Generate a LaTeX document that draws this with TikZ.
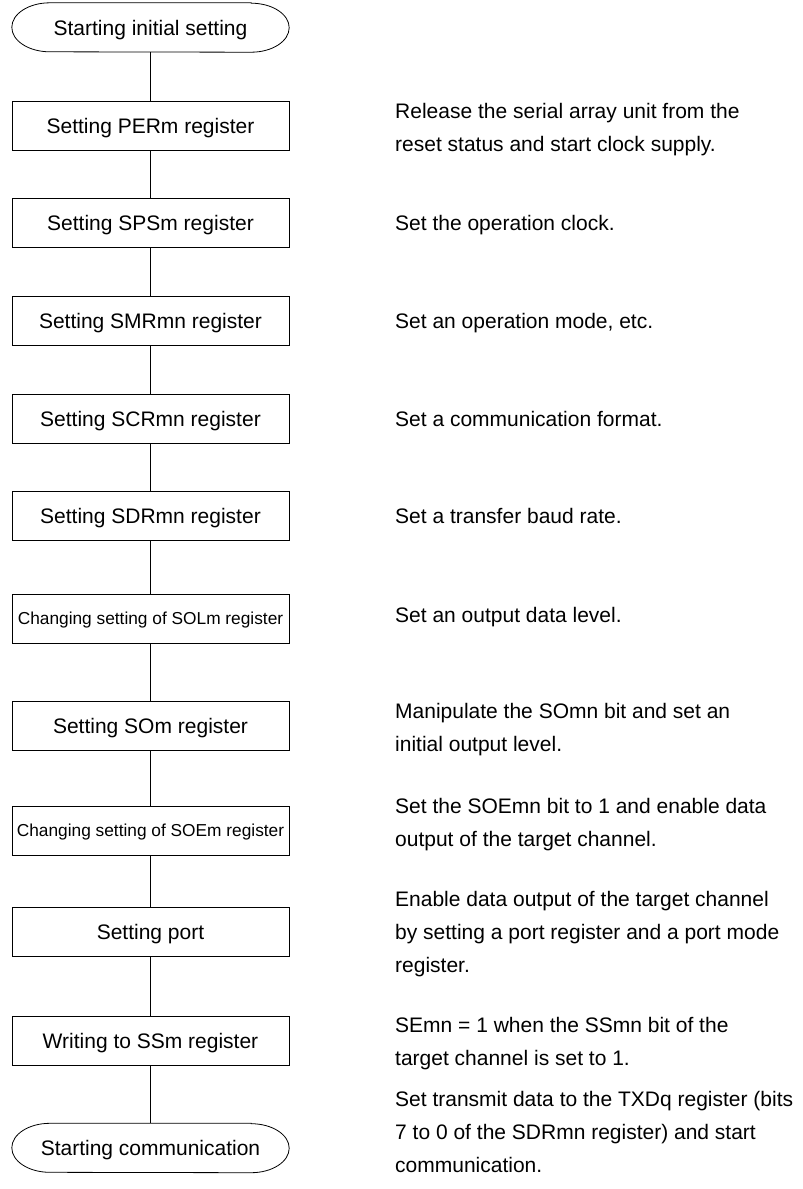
\documentclass[tikz,border=0pt]{standalone}
\usepackage{fontspec}
\setmainfont{Liberation Sans}
\usetikzlibrary{positioning}

\begin{document}
\begin{tikzpicture}[
    x=1pt, y=1pt,
    font=\fontsize{21}{33}\selectfont,
    link/.style={draw, line width=0.8pt},
    stepbox/.style={draw, line width=0.8pt, minimum width=277pt, minimum height=49pt,
      inner sep=0pt, text height=15pt, text depth=0pt},
    smallbox/.style={stepbox, font=\fontsize{17.3}{20}\selectfont, text height=12.4pt},
    terminal/.style={minimum width=277pt, minimum height=49pt, inner sep=0pt,
      text height=15pt, text depth=0pt},
    note/.style={anchor=base west, align=left, inner sep=0pt},
  ]
  \useasboundingbox (0,0) rectangle (803,-1189);

  % start and end of the flow
  \node[terminal] (start) at (150.5,-27.5) {Starting initial setting};
  \node[terminal] (comm) at (150.5,-1148) {Starting communication};
  \foreach \n in {start,comm} {
    \draw[line width=0.8pt] ([xshift=-38pt]\n.north east) -- ([xshift=38pt]\n.north west)
      arc[start angle=90, end angle=270, x radius=38pt, y radius=24.5pt]
      -- ([xshift=-38pt]\n.south east)
      arc[start angle=-90, end angle=90, x radius=38pt, y radius=24.5pt] -- cycle;
  }

  % register setting steps
  \foreach \name/\ypos/\sty/\txt in {
      per/125.5/stepbox/{Setting PERm register},
      sps/223/stepbox/{Setting SPSm register},
      smr/320.5/stepbox/{Setting SMRmn register},
      scr/418.5/stepbox/{Setting SCRmn register},
      sdr/516/stepbox/{Setting SDRmn register},
      sol/618.5/smallbox/{Changing setting of SOLm register},
      som/725.5/stepbox/{Setting SOm register},
      soe/830.5/smallbox/{Changing setting of SOEm register},
      port/932/stepbox/{Setting port},
      ssm/1040.5/stepbox/{Writing to SSm register}} {
    \node[\sty] (\name) at (150.5,-\ypos) {\txt};
  }

  \foreach \a/\b in {start/per, per/sps, sps/smr, smr/scr, scr/sdr, sdr/sol,
      sol/som, som/soe, soe/port, port/ssm, ssm/comm} {
    \draw[link] (\a) -- (\b);
  }

  % explanations on the right (y = baseline of the last line)
  \foreach \name/\ypos/\txt in {
      nper/151/{Release the serial array unit from the\\reset status and start clock supply.},
      nsps/230.5/{Set the operation clock.},
      nsmr/328/{Set an operation mode, etc.},
      nscr/426/{Set a communication format.},
      nsdr/523.5/{Set a transfer baud rate.},
      nsol/622/{Set an output data level.},
      nsom/751/{Manipulate the SOmn bit and set an\\initial output level.},
      nsoe/846/{Set the SOEmn bit to 1 and enable data\\output of the target channel.},
      nport/972/{Enable data output of the target channel\\by setting a port register and a port mode\\register.},
      nssm/1065/{SEmn = 1 when the SSmn bit of the\\target channel is set to 1.},
      ncomm/1172/{Set transmit data to the TXDq register (bits\\7 to 0 of the SDRmn register) and start\\communication.}} {
    \node[note] (\name) at (395,-\ypos) {\txt};
  }
\end{tikzpicture}
\end{document}
